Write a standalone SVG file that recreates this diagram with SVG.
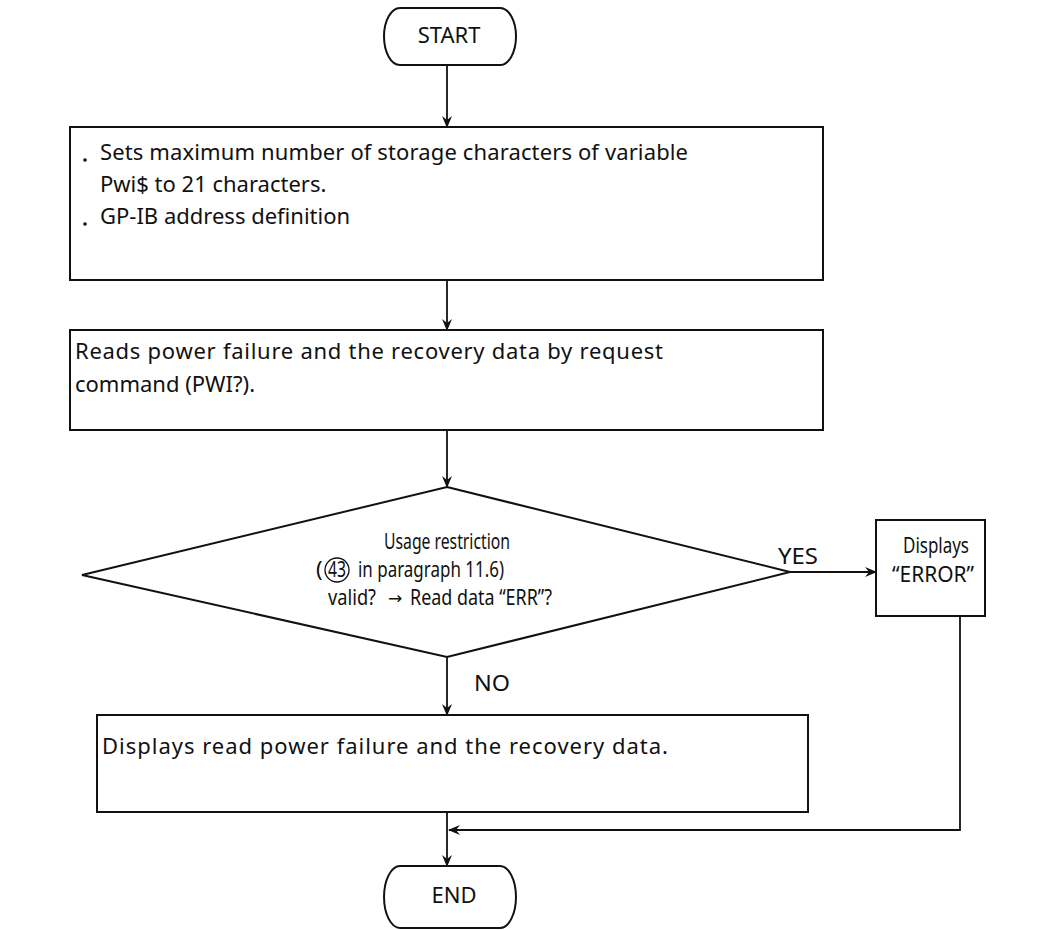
<svg xmlns="http://www.w3.org/2000/svg" width="1041" height="930" viewBox="0 0 1041 930">
<defs>
<marker id="ah" viewBox="0 0 12 12" refX="11" refY="6" markerWidth="12" markerHeight="12" markerUnits="userSpaceOnUse" orient="auto">
<path d="M0,1 L12,6 L0,11 L4,6 Z" fill="#111"/>
</marker>
</defs>
<style>
.s{fill:#fff;stroke:#111;stroke-width:2}
.t{font-family:"Noto Sans","Open Sans",sans-serif;font-size:22px;fill:#111}
.d{font-family:"Noto Sans","Open Sans",sans-serif;font-size:22px;fill:#111}
.c{stroke:#111;stroke-width:1.8;fill:none}
</style>
<rect width="1041" height="930" fill="#fff"/>
<g id="connectors">
<line class="c" x1="447" y1="65" x2="447" y2="127" marker-end="url(#ah)"/>
<line class="c" x1="447" y1="280" x2="447" y2="330" marker-end="url(#ah)"/>
<line class="c" x1="447" y1="430" x2="447" y2="487" marker-end="url(#ah)"/>
<line class="c" x1="790" y1="572" x2="876" y2="572" marker-end="url(#ah)"/>
<line class="c" x1="447" y1="657" x2="447" y2="715" marker-end="url(#ah)"/>
<line class="c" x1="447" y1="812" x2="447" y2="866" marker-end="url(#ah)"/>
<polyline class="c" points="960,616 960,830 449,830" marker-end="url(#ah)"/>
<text class="d" x="778" y="564" textLength="40" lengthAdjust="spacingAndGlyphs">YES</text>
<text class="d" x="474" y="691" textLength="36" lengthAdjust="spacingAndGlyphs">NO</text>
</g>
<g id="start">
<path class="s" d="M400,8 H500 A16,28.5 0 0 1 500,65 H400 A16,28.5 0 0 1 400,8 Z"/>
<text class="d" x="449" y="43" text-anchor="middle">START</text>
</g>
<g id="box1">
<rect class="s" x="70" y="127" width="753" height="153"/>
<circle cx="85" cy="160" r="1.8" fill="#111"/>
<circle cx="85" cy="224" r="1.8" fill="#111"/>
<text class="t" x="100" y="160" textLength="588" lengthAdjust="spacing">Sets maximum number of storage characters of variable</text>
<text class="t" x="100" y="192">Pwi$ to 21 characters.</text>
<text class="t" x="100" y="224">GP-IB address definition</text>
</g>
<g id="box2">
<rect class="s" x="70" y="330" width="753" height="100"/>
<text class="t" x="75" y="359" textLength="588" lengthAdjust="spacing">Reads power failure and the recovery data by request</text>
<text class="t" x="75" y="392">command (PWI?).</text>
</g>
<g id="decision">
<polygon class="s" points="447,487 790,572 447,657 82,575"/>
<text class="d" x="384" y="549" textLength="126" lengthAdjust="spacingAndGlyphs">Usage restriction</text>
<text class="d" x="316" y="577">(</text>
<circle cx="337" cy="570" r="12" fill="none" stroke="#111" stroke-width="1.3"/>
<text class="d" x="337" y="577" text-anchor="middle" textLength="18" lengthAdjust="spacingAndGlyphs">43</text>
<text class="d" x="358" y="577" textLength="146" lengthAdjust="spacingAndGlyphs">in paragraph 11.6)</text>
<text class="d" x="328" y="605" textLength="48" lengthAdjust="spacingAndGlyphs">valid?</text>
<text x="388" y="604" font-family="DejaVu Sans" font-size="17px" fill="#111">→</text>
<text class="d" x="410" y="605" textLength="142" lengthAdjust="spacingAndGlyphs">Read data “ERR”?</text>
</g>
<g id="error">
<rect class="s" x="876" y="520" width="109" height="96"/>
<text class="d" x="903" y="553" textLength="66" lengthAdjust="spacingAndGlyphs">Displays</text>
<text class="d" x="892" y="582" textLength="82" lengthAdjust="spacingAndGlyphs">“ERROR”</text>
</g>
<g id="box3">
<rect class="s" x="97" y="715" width="711" height="97"/>
<text class="t" x="102" y="754" textLength="566" lengthAdjust="spacing">Displays read power failure and the recovery data.</text>
</g>
<g id="end">
<path class="s" d="M400,866 H500 A16,31 0 0 1 500,928 H400 A16,31 0 0 1 400,866 Z"/>
<text class="d" x="454" y="903" text-anchor="middle">END</text>
</g>
</svg>
